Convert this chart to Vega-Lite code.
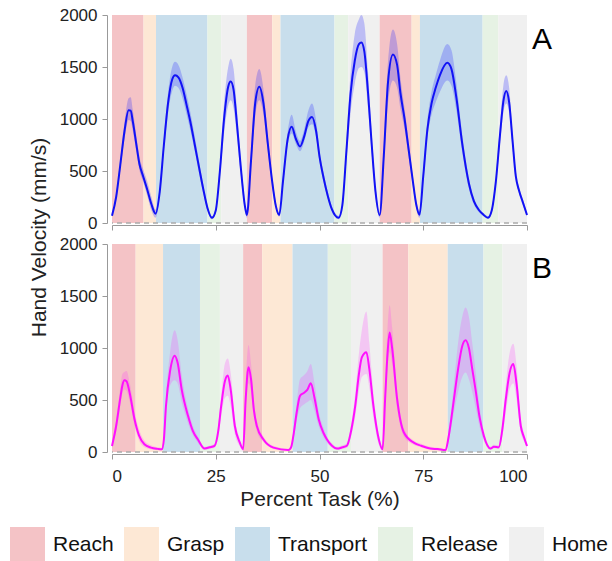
{
  "$schema": "https://vega.github.io/schema/vega-lite/v6.json",
  "background": "white",
  "padding": {"left": 10, "top": 6, "right": 0, "bottom": 0},
  "bounds": "flush",
  "spacing": 21,
  "datasets": {
    "phases": [
      {"panel": "A", "phase": "Reach", "start": 0, "end": 7.6},
      {"panel": "A", "phase": "Grasp", "start": 7.6, "end": 10.6},
      {"panel": "A", "phase": "Transport", "start": 10.6, "end": 23.0},
      {"panel": "A", "phase": "Release", "start": 23.0, "end": 26.3},
      {"panel": "A", "phase": "Home", "start": 26.3, "end": 32.5},
      {"panel": "A", "phase": "Reach", "start": 32.5, "end": 38.6},
      {"panel": "A", "phase": "Grasp", "start": 38.6, "end": 40.6},
      {"panel": "A", "phase": "Transport", "start": 40.6, "end": 53.6},
      {"panel": "A", "phase": "Release", "start": 53.6, "end": 56.9},
      {"panel": "A", "phase": "Home", "start": 56.9, "end": 64.5},
      {"panel": "A", "phase": "Reach", "start": 64.5, "end": 72.2},
      {"panel": "A", "phase": "Grasp", "start": 72.2, "end": 74.2},
      {"panel": "A", "phase": "Transport", "start": 74.2, "end": 89.3},
      {"panel": "A", "phase": "Release", "start": 89.3, "end": 93.1},
      {"panel": "A", "phase": "Home", "start": 93.1, "end": 100},
      {"panel": "B", "phase": "Reach", "start": 0, "end": 5.7},
      {"panel": "B", "phase": "Grasp", "start": 5.7, "end": 12.3},
      {"panel": "B", "phase": "Transport", "start": 12.3, "end": 21.2},
      {"panel": "B", "phase": "Release", "start": 21.2, "end": 26.0},
      {"panel": "B", "phase": "Home", "start": 26.0, "end": 31.6},
      {"panel": "B", "phase": "Reach", "start": 31.6, "end": 36.2},
      {"panel": "B", "phase": "Grasp", "start": 36.2, "end": 43.5},
      {"panel": "B", "phase": "Transport", "start": 43.5, "end": 52.0},
      {"panel": "B", "phase": "Release", "start": 52.0, "end": 57.6},
      {"panel": "B", "phase": "Home", "start": 57.6, "end": 65.2},
      {"panel": "B", "phase": "Reach", "start": 65.2, "end": 71.4},
      {"panel": "B", "phase": "Grasp", "start": 71.4, "end": 80.9},
      {"panel": "B", "phase": "Transport", "start": 80.9, "end": 89.5},
      {"panel": "B", "phase": "Release", "start": 89.5, "end": 94.1},
      {"panel": "B", "phase": "Home", "start": 94.1, "end": 100}
    ],
    "velA": [
      {"pct": 0, "mean": 70, "lo": 60, "hi": 80},
      {"pct": 1, "mean": 250, "lo": 220, "hi": 280},
      {"pct": 2, "mean": 560, "lo": 510, "hi": 610},
      {"pct": 3, "mean": 880, "lo": 800, "hi": 960},
      {"pct": 4, "mean": 1085, "lo": 990, "hi": 1200},
      {"pct": 4.5, "mean": 1080, "lo": 980, "hi": 1210},
      {"pct": 5, "mean": 980, "lo": 890, "hi": 1090},
      {"pct": 6, "mean": 720, "lo": 650, "hi": 800},
      {"pct": 6.6, "mean": 570, "lo": 510, "hi": 640},
      {"pct": 7.5, "mean": 450, "lo": 400, "hi": 520},
      {"pct": 8.5, "mean": 320, "lo": 260, "hi": 400},
      {"pct": 9.5, "mean": 180, "lo": 120, "hi": 250},
      {"pct": 10.5, "mean": 90, "lo": 50, "hi": 130},
      {"pct": 11.5, "mean": 300, "lo": 260, "hi": 340},
      {"pct": 12.5, "mean": 750, "lo": 680, "hi": 820},
      {"pct": 13.5, "mean": 1150, "lo": 1050, "hi": 1250},
      {"pct": 14.5, "mean": 1380, "lo": 1270, "hi": 1500},
      {"pct": 15.2, "mean": 1420, "lo": 1320, "hi": 1550},
      {"pct": 16, "mean": 1400, "lo": 1300, "hi": 1520},
      {"pct": 17, "mean": 1300, "lo": 1200, "hi": 1400},
      {"pct": 18, "mean": 1130, "lo": 1040, "hi": 1230},
      {"pct": 19, "mean": 950, "lo": 870, "hi": 1040},
      {"pct": 20, "mean": 740, "lo": 680, "hi": 820},
      {"pct": 21, "mean": 530, "lo": 470, "hi": 590},
      {"pct": 22, "mean": 325, "lo": 285, "hi": 365},
      {"pct": 23, "mean": 145, "lo": 115, "hi": 175},
      {"pct": 24.1, "mean": 50, "lo": 35, "hi": 65},
      {"pct": 25, "mean": 120, "lo": 100, "hi": 150},
      {"pct": 26, "mean": 500, "lo": 430, "hi": 570},
      {"pct": 27, "mean": 1000, "lo": 860, "hi": 1150},
      {"pct": 28, "mean": 1310, "lo": 1130, "hi": 1500},
      {"pct": 28.6, "mean": 1360, "lo": 1180, "hi": 1580},
      {"pct": 29.3, "mean": 1280, "lo": 1100, "hi": 1480},
      {"pct": 30, "mean": 1000, "lo": 870, "hi": 1150},
      {"pct": 31, "mean": 550, "lo": 470, "hi": 640},
      {"pct": 32, "mean": 170, "lo": 130, "hi": 220},
      {"pct": 32.5, "mean": 77, "lo": 50, "hi": 110},
      {"pct": 33.5, "mean": 600, "lo": 530, "hi": 700},
      {"pct": 34.5, "mean": 1150, "lo": 1020, "hi": 1320},
      {"pct": 35.5, "mean": 1310, "lo": 1180, "hi": 1480},
      {"pct": 36.5, "mean": 1150, "lo": 1040, "hi": 1280},
      {"pct": 37.5, "mean": 780, "lo": 700, "hi": 860},
      {"pct": 38.5, "mean": 430, "lo": 380, "hi": 480},
      {"pct": 39.5, "mean": 160, "lo": 130, "hi": 200},
      {"pct": 40.3, "mean": 77, "lo": 60, "hi": 100},
      {"pct": 41.2, "mean": 400, "lo": 360, "hi": 450},
      {"pct": 42.3, "mean": 800, "lo": 740, "hi": 870},
      {"pct": 43.3, "mean": 925, "lo": 860, "hi": 1040},
      {"pct": 44.3, "mean": 810, "lo": 760, "hi": 880},
      {"pct": 45.3, "mean": 735, "lo": 690, "hi": 790},
      {"pct": 46.3, "mean": 830, "lo": 780, "hi": 900},
      {"pct": 47.3, "mean": 980, "lo": 920, "hi": 1080},
      {"pct": 48.2, "mean": 1020, "lo": 950, "hi": 1150},
      {"pct": 49.2, "mean": 880, "lo": 820, "hi": 980},
      {"pct": 50, "mean": 640, "lo": 590, "hi": 700},
      {"pct": 51, "mean": 430, "lo": 390, "hi": 480},
      {"pct": 52, "mean": 260, "lo": 230, "hi": 300},
      {"pct": 53, "mean": 130, "lo": 110, "hi": 160},
      {"pct": 54.6, "mean": 50, "lo": 35, "hi": 70},
      {"pct": 55.5, "mean": 170, "lo": 130, "hi": 210},
      {"pct": 56.5, "mean": 700, "lo": 600, "hi": 800},
      {"pct": 57.5, "mean": 1250, "lo": 1060, "hi": 1450},
      {"pct": 58.5, "mean": 1560, "lo": 1340, "hi": 1820},
      {"pct": 59.5, "mean": 1720, "lo": 1490, "hi": 1960},
      {"pct": 60.1, "mean": 1735, "lo": 1500, "hi": 2000},
      {"pct": 60.8, "mean": 1650, "lo": 1450, "hi": 1920},
      {"pct": 61.7, "mean": 1250, "lo": 1100, "hi": 1450},
      {"pct": 62.5, "mean": 800, "lo": 700, "hi": 920},
      {"pct": 63.5, "mean": 300, "lo": 250, "hi": 360},
      {"pct": 64.5, "mean": 77, "lo": 50, "hi": 100},
      {"pct": 65.5, "mean": 650, "lo": 560, "hi": 750},
      {"pct": 66.5, "mean": 1350, "lo": 1150, "hi": 1550},
      {"pct": 67.7, "mean": 1620, "lo": 1370, "hi": 1860},
      {"pct": 68.7, "mean": 1520, "lo": 1300, "hi": 1720},
      {"pct": 69.5, "mean": 1250, "lo": 1100, "hi": 1400},
      {"pct": 70.5, "mean": 1000, "lo": 900, "hi": 1100},
      {"pct": 71.5, "mean": 700, "lo": 630, "hi": 780},
      {"pct": 72.5, "mean": 400, "lo": 350, "hi": 450},
      {"pct": 73.3, "mean": 180, "lo": 140, "hi": 220},
      {"pct": 74.1, "mean": 80, "lo": 50, "hi": 110},
      {"pct": 75, "mean": 450, "lo": 390, "hi": 510},
      {"pct": 76, "mean": 900, "lo": 820, "hi": 990},
      {"pct": 77, "mean": 1150, "lo": 1040, "hi": 1260},
      {"pct": 78, "mean": 1300, "lo": 1160, "hi": 1420},
      {"pct": 79, "mean": 1420, "lo": 1260, "hi": 1560},
      {"pct": 80.8, "mean": 1540, "lo": 1370, "hi": 1720},
      {"pct": 81.8, "mean": 1480, "lo": 1320, "hi": 1660},
      {"pct": 83, "mean": 1200, "lo": 1080, "hi": 1340},
      {"pct": 84.4, "mean": 760, "lo": 680, "hi": 850},
      {"pct": 86, "mean": 380, "lo": 330, "hi": 430},
      {"pct": 87.2, "mean": 210, "lo": 180, "hi": 240},
      {"pct": 88.5, "mean": 120, "lo": 100, "hi": 140},
      {"pct": 89.5, "mean": 80, "lo": 65, "hi": 95},
      {"pct": 90.6, "mean": 50, "lo": 40, "hi": 65},
      {"pct": 91.5, "mean": 120, "lo": 100, "hi": 140},
      {"pct": 92.5, "mean": 400, "lo": 350, "hi": 450},
      {"pct": 93.5, "mean": 850, "lo": 760, "hi": 950},
      {"pct": 94.3, "mean": 1170, "lo": 1060, "hi": 1320},
      {"pct": 95, "mean": 1270, "lo": 1150, "hi": 1420},
      {"pct": 95.7, "mean": 1160, "lo": 1060, "hi": 1300},
      {"pct": 96.5, "mean": 800, "lo": 730, "hi": 880},
      {"pct": 97.3, "mean": 450, "lo": 410, "hi": 500},
      {"pct": 98.1, "mean": 310, "lo": 280, "hi": 340},
      {"pct": 99, "mean": 200, "lo": 170, "hi": 230},
      {"pct": 100, "mean": 77, "lo": 60, "hi": 100}
    ],
    "velB": [
      {"pct": 0, "mean": 58, "lo": 40, "hi": 80},
      {"pct": 1, "mean": 250, "lo": 200, "hi": 310},
      {"pct": 2, "mean": 520, "lo": 440, "hi": 620},
      {"pct": 2.5, "mean": 640, "lo": 560, "hi": 750},
      {"pct": 3, "mean": 690, "lo": 600, "hi": 770},
      {"pct": 3.5, "mean": 680, "lo": 590, "hi": 780},
      {"pct": 4.3, "mean": 560, "lo": 480, "hi": 660},
      {"pct": 5.4, "mean": 320, "lo": 260, "hi": 400},
      {"pct": 6.5, "mean": 160, "lo": 110, "hi": 220},
      {"pct": 7.8, "mean": 75, "lo": 45, "hi": 110},
      {"pct": 9.4, "mean": 42, "lo": 25, "hi": 65},
      {"pct": 11, "mean": 30, "lo": 18, "hi": 45},
      {"pct": 12, "mean": 26, "lo": 15, "hi": 40},
      {"pct": 12.5, "mean": 120, "lo": 90, "hi": 160},
      {"pct": 13, "mean": 440, "lo": 360, "hi": 520},
      {"pct": 14, "mean": 780, "lo": 640, "hi": 960},
      {"pct": 15.1, "mean": 925, "lo": 690, "hi": 1170},
      {"pct": 15.8, "mean": 860, "lo": 660, "hi": 1080},
      {"pct": 16.8, "mean": 600, "lo": 480, "hi": 740},
      {"pct": 18.3, "mean": 350, "lo": 280, "hi": 420},
      {"pct": 19.5, "mean": 200, "lo": 160, "hi": 250},
      {"pct": 20.7, "mean": 120, "lo": 90, "hi": 150},
      {"pct": 22.3, "mean": 33, "lo": 20, "hi": 50},
      {"pct": 23.5, "mean": 45, "lo": 30, "hi": 60},
      {"pct": 24.7, "mean": 58, "lo": 40, "hi": 80},
      {"pct": 25.6, "mean": 200, "lo": 150, "hi": 260},
      {"pct": 26.3, "mean": 440, "lo": 340, "hi": 540},
      {"pct": 27.2, "mean": 680, "lo": 520, "hi": 850},
      {"pct": 27.9, "mean": 735, "lo": 540, "hi": 900},
      {"pct": 28.6, "mean": 600, "lo": 440, "hi": 760},
      {"pct": 29.6, "mean": 250, "lo": 170, "hi": 330},
      {"pct": 30.8, "mean": 90, "lo": 55, "hi": 130},
      {"pct": 31.6, "mean": 26, "lo": 10, "hi": 40},
      {"pct": 32.2, "mean": 500, "lo": 400, "hi": 650},
      {"pct": 32.9, "mean": 815, "lo": 660, "hi": 1030},
      {"pct": 33.5, "mean": 700, "lo": 580, "hi": 850},
      {"pct": 34.2, "mean": 400, "lo": 330, "hi": 480},
      {"pct": 34.9, "mean": 250, "lo": 200, "hi": 300},
      {"pct": 36.5, "mean": 120, "lo": 95, "hi": 150},
      {"pct": 38.9, "mean": 42, "lo": 30, "hi": 60},
      {"pct": 42.5, "mean": 19, "lo": 10, "hi": 30},
      {"pct": 43.2, "mean": 50, "lo": 30, "hi": 80},
      {"pct": 43.7, "mean": 155, "lo": 110, "hi": 200},
      {"pct": 44.5, "mean": 380, "lo": 300, "hi": 470},
      {"pct": 45.3, "mean": 540, "lo": 420, "hi": 700},
      {"pct": 46.3, "mean": 570, "lo": 460, "hi": 740},
      {"pct": 47.1, "mean": 600, "lo": 480, "hi": 780},
      {"pct": 47.9, "mean": 660, "lo": 500, "hi": 845},
      {"pct": 48.8, "mean": 520, "lo": 400, "hi": 660},
      {"pct": 49.8, "mean": 315, "lo": 250, "hi": 390},
      {"pct": 51, "mean": 180, "lo": 140, "hi": 230},
      {"pct": 51.8, "mean": 120, "lo": 90, "hi": 150},
      {"pct": 53, "mean": 60, "lo": 40, "hi": 85},
      {"pct": 54.2, "mean": 33, "lo": 20, "hi": 50},
      {"pct": 55.5, "mean": 45, "lo": 30, "hi": 65},
      {"pct": 56.6, "mean": 60, "lo": 40, "hi": 85},
      {"pct": 57.6, "mean": 200, "lo": 150, "hi": 260},
      {"pct": 58.6, "mean": 440, "lo": 340, "hi": 560},
      {"pct": 59.5, "mean": 750, "lo": 590, "hi": 950},
      {"pct": 60.2, "mean": 910, "lo": 720, "hi": 1170},
      {"pct": 61.3, "mean": 960, "lo": 750, "hi": 1350},
      {"pct": 62, "mean": 800, "lo": 620, "hi": 1050},
      {"pct": 63, "mean": 440, "lo": 330, "hi": 560},
      {"pct": 64.3, "mean": 120, "lo": 70, "hi": 170},
      {"pct": 65.2, "mean": 26, "lo": 10, "hi": 40},
      {"pct": 65.8, "mean": 500, "lo": 400, "hi": 650},
      {"pct": 66.4, "mean": 950, "lo": 800, "hi": 1200},
      {"pct": 66.9, "mean": 1150, "lo": 960, "hi": 1410},
      {"pct": 67.5, "mean": 1000, "lo": 850, "hi": 1200},
      {"pct": 68.7, "mean": 510, "lo": 420, "hi": 600},
      {"pct": 70.3, "mean": 190, "lo": 150, "hi": 230},
      {"pct": 72.7, "mean": 90, "lo": 70, "hi": 110},
      {"pct": 74.5, "mean": 60, "lo": 45, "hi": 80},
      {"pct": 76.7, "mean": 33, "lo": 20, "hi": 50},
      {"pct": 78.5, "mean": 28, "lo": 15, "hi": 40},
      {"pct": 80.4, "mean": 19, "lo": 10, "hi": 30},
      {"pct": 81, "mean": 120, "lo": 80, "hi": 170},
      {"pct": 81.8, "mean": 330, "lo": 250, "hi": 430},
      {"pct": 82.4, "mean": 510, "lo": 380, "hi": 660},
      {"pct": 83.4, "mean": 800, "lo": 580, "hi": 1050},
      {"pct": 84.4, "mean": 1020, "lo": 720, "hi": 1300},
      {"pct": 85.2, "mean": 1075, "lo": 765, "hi": 1390},
      {"pct": 86, "mean": 1000, "lo": 700, "hi": 1300},
      {"pct": 86.8, "mean": 800, "lo": 580, "hi": 1050},
      {"pct": 87.6, "mean": 600, "lo": 430, "hi": 780},
      {"pct": 88.6, "mean": 330, "lo": 240, "hi": 430},
      {"pct": 89.6, "mean": 155, "lo": 110, "hi": 200},
      {"pct": 91.2, "mean": 33, "lo": 20, "hi": 50},
      {"pct": 92, "mean": 50, "lo": 35, "hi": 70},
      {"pct": 93.2, "mean": 45, "lo": 30, "hi": 65},
      {"pct": 94, "mean": 200, "lo": 140, "hi": 260},
      {"pct": 94.9, "mean": 510, "lo": 380, "hi": 650},
      {"pct": 95.8, "mean": 760, "lo": 600, "hi": 950},
      {"pct": 96.7, "mean": 845, "lo": 660, "hi": 1040},
      {"pct": 97.5, "mean": 650, "lo": 500, "hi": 820},
      {"pct": 98.5, "mean": 250, "lo": 190, "hi": 320},
      {"pct": 99.3, "mean": 140, "lo": 100, "hi": 180},
      {"pct": 100, "mean": 58, "lo": 40, "hi": 80}
    ]
  },
  "vconcat": [
    {
      "width": 415,
      "height": 208,
      "layer": [
        {
          "data": {"name": "phases"},
          "transform": [{"filter": "datum.panel === 'A'"}],
          "mark": {"type": "rect"},
          "encoding": {
            "x": {"field": "start", "type": "quantitative", "scale": {"domain": [0, 100], "nice": false},
                  "axis": {"values": [0, 25, 50, 75, 100], "labels": false, "title": null, "offset": 2}},
            "x2": {"field": "end"},
            "color": {"field": "phase", "type": "nominal",
              "scale": {"domain": ["Reach", "Grasp", "Transport", "Release", "Home"], "range": ["#f4c3c6", "#fde8d5", "#c8deec", "#e6f2e4", "#f0f0f0"]},
              "legend": {"orient": "none", "legendX": -102, "legendY": 512, "direction": "horizontal", "title": null, "symbolType": "square", "symbolSize": 1225, "symbolStrokeWidth": 0, "symbolOpacity": 1, "labelFontSize": 21, "labelOffset": 8, "columnPadding": 10, "labelColor": "#111111", "padding": 0}}
          }
        },
        {
          "data": {"values": [{"z": 0}]},
          "mark": {"type": "rule", "strokeDash": [5, 4], "color": "#aaaaaa", "strokeWidth": 1.3},
          "encoding": {
            "y": {"field": "z", "type": "quantitative", "scale": {"domain": [0, 2000], "nice": false},
                  "axis": {"values": [0, 500, 1000, 1500, 2000], "format": "d", "title": "Hand Velocity (mm/s)", "titleY": 222, "offset": 5}}
          }
        },
        {
          "data": {"name": "velA"},
          "mark": {"type": "area", "interpolate": "monotone", "color": "#3030ff", "opacity": 0.27},
          "encoding": {
            "x": {"field": "pct", "type": "quantitative"},
            "y": {"field": "lo", "type": "quantitative"},
            "y2": {"field": "hi"}
          }
        },
        {
          "data": {"name": "velA"},
          "mark": {"type": "line", "interpolate": "monotone", "color": "#1212f5", "strokeWidth": 2},
          "encoding": {
            "x": {"field": "pct", "type": "quantitative"},
            "y": {"field": "mean", "type": "quantitative"}
          }
        },
        {
          "data": {"values": [{"label": "A"}]},
          "mark": {"type": "text", "align": "left", "baseline": "alphabetic", "dx": 5, "dy": 34, "fontSize": 30, "color": "#000000"},
          "encoding": {
            "x": {"datum": 100},
            "y": {"datum": 2000},
            "text": {"field": "label"}
          }
        }
      ]
    },
    {
      "width": 415,
      "height": 208,
      "layer": [
        {
          "data": {"name": "phases"},
          "transform": [{"filter": "datum.panel === 'B'"}],
          "mark": {"type": "rect"},
          "encoding": {
            "x": {"field": "start", "type": "quantitative", "scale": {"domain": [0, 100], "nice": false},
                  "axis": {"values": [0, 25, 50, 75, 100], "title": "Percent Task (%)", "offset": 2}},
            "x2": {"field": "end"},
            "color": {"field": "phase", "type": "nominal",
              "scale": {"domain": ["Reach", "Grasp", "Transport", "Release", "Home"], "range": ["#f4c3c6", "#fde8d5", "#c8deec", "#e6f2e4", "#f0f0f0"]},
              "legend": {"orient": "none", "legendX": -102, "legendY": 512, "direction": "horizontal", "title": null, "symbolType": "square", "symbolSize": 1225, "symbolStrokeWidth": 0, "symbolOpacity": 1, "labelFontSize": 21, "labelOffset": 8, "columnPadding": 10, "labelColor": "#111111", "padding": 0}}
          }
        },
        {
          "data": {"values": [{"z": 0}]},
          "mark": {"type": "rule", "strokeDash": [5, 4], "color": "#aaaaaa", "strokeWidth": 1.3},
          "encoding": {
            "y": {"field": "z", "type": "quantitative", "scale": {"domain": [0, 2000], "nice": false},
                  "axis": {"values": [0, 500, 1000, 1500, 2000], "format": "d", "title": null, "offset": 5}}
          }
        },
        {
          "data": {"name": "velB"},
          "mark": {"type": "area", "interpolate": "monotone", "color": "#ff30ff", "opacity": 0.22},
          "encoding": {
            "x": {"field": "pct", "type": "quantitative"},
            "y": {"field": "lo", "type": "quantitative"},
            "y2": {"field": "hi"}
          }
        },
        {
          "data": {"name": "velB"},
          "mark": {"type": "line", "interpolate": "monotone", "color": "#ff10ff", "strokeWidth": 2},
          "encoding": {
            "x": {"field": "pct", "type": "quantitative"},
            "y": {"field": "mean", "type": "quantitative"}
          }
        },
        {
          "data": {"values": [{"label": "B"}]},
          "mark": {"type": "text", "align": "left", "baseline": "alphabetic", "dx": 5, "dy": 34, "fontSize": 30, "color": "#000000"},
          "encoding": {
            "x": {"datum": 100},
            "y": {"datum": 2000},
            "text": {"field": "label"}
          }
        }
      ]
    }
  ],
  "config": {
    "font": "Liberation Sans",
    "view": {"stroke": null},
    "axis": {
      "grid": false,
      "labelFontSize": 17,
      "titleFontSize": 21,
      "titleFontWeight": "normal",
      "labelColor": "#222222",
      "titleColor": "#222222",
      "domainColor": "#999999",
      "tickColor": "#999999",
      "tickSize": 5,
      "labelPadding": 5
    },
    "axisX": {"labelPadding": 9, "titlePadding": 4},
    "axisY": {"titlePadding": 10}
  }
}
